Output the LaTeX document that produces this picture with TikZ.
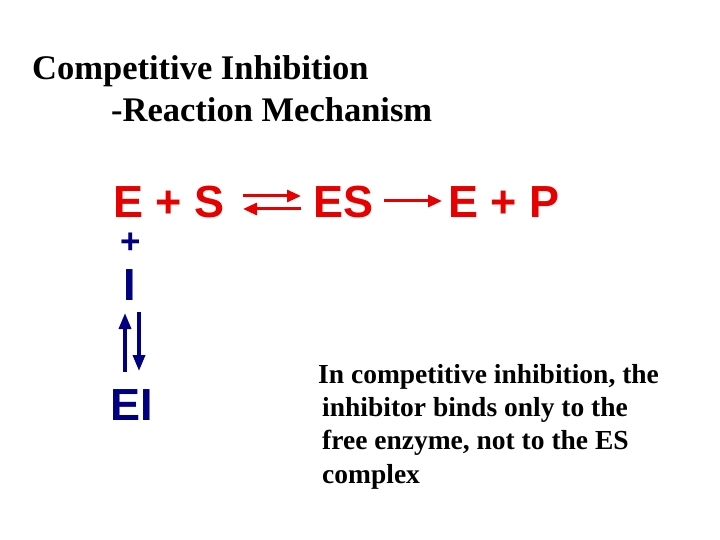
\documentclass[tikz,border=0pt]{standalone}
\usepackage{fontspec}
\setmainfont{Liberation Serif}
\newfontfamily\arial{Liberation Sans}
\usetikzlibrary{arrows.meta}
\definecolor{rxred}{RGB}{230,0,0}
\definecolor{rxblue}{RGB}{0,0,128}
\begin{document}
\begin{tikzpicture}[x=1pt,y=-1pt,
  rx/.style={font=\arial\fontsize{45}{45}\selectfont\bfseries, text=rxred, inner sep=0pt, anchor=base west},
  bx/.style={font=\arial\fontsize{45}{45}\selectfont\bfseries, text=rxblue, inner sep=0pt, anchor=base west},
  ttl/.style={font=\fontsize{34.5}{34.5}\selectfont\bfseries, inner sep=0pt, anchor=base west},
  body/.style={font=\fontsize{27.5}{27.5}\selectfont\bfseries, inner sep=0pt, anchor=base west},
  ra/.style={rxred, line width=3pt, -{Triangle[length=14pt,width=12pt]}},
  ba/.style={rxblue, line width=3.5pt, -{Triangle[length=16pt,width=12pt]}}]
\useasboundingbox (0,0) rectangle (720,540);
\node[ttl] (t1) at (32,80) {Competitive Inhibition};
\node[ttl] (t2) at (111,122) {-Reaction Mechanism};
\node[rx] (es0) at (113,218) {E + S};
\node[rx] (es) at (313,218) {ES};
\node[rx] (ep) at (448,218) {E + P};
\coordinate (a1) at (243,196);
\coordinate (a2) at (301,196);
\coordinate (b1) at (301,209);
\coordinate (b2) at (243,209);
\draw[ra] (a1) -- (a2);
\draw[ra] (b1) -- (b2);
\coordinate (c1) at (384,201);
\coordinate (c2) at (442,201);
\draw[ra] (c1) -- (c2);
\node[bx, font=\arial\fontsize{35}{35}\selectfont\bfseries] (pl) at (120,254) {+};
\node[bx] (ii) at (123,300) {I};
\coordinate (u1) at (125,372);
\coordinate (u2) at (125,313);
\coordinate (d1) at (139,312);
\coordinate (d2) at (139,371);
\draw[ba] (u1) -- (u2);
\draw[ba] (d1) -- (d2);
\node[bx] (ei) at (110,420) {EI};
\node[body] (l1) at (318,383) {In competitive inhibition, the};
\node[body] (l2) at (322,416) {inhibitor binds only to the};
\node[body] (l3) at (322,449) {free enzyme, not to the ES};
\node[body] (l4) at (322,483) {complex};
\end{tikzpicture}
\end{document}
